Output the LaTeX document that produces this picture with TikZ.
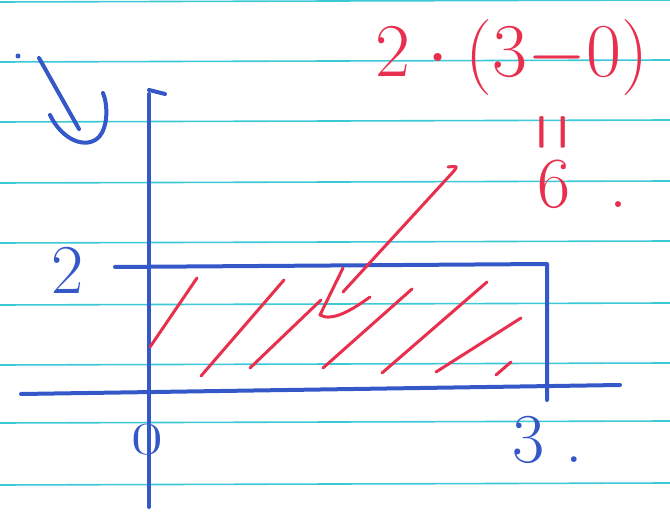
\documentclass[tikz,border=0pt]{standalone}
\usepackage{fix-cm}
\usepackage{graphicx}
\usepackage{xcolor}
\usetikzlibrary{arrows.meta}
\definecolor{penblue}{RGB}{52,88,200}
\definecolor{penred}{RGB}{232,48,78}
\definecolor{ruleline}{RGB}{60,200,215}
\begin{document}
\begin{tikzpicture}[x=1pt,y=-1pt,
  rule/.style={ruleline, line width=1.6pt},
  bluepen/.style={penblue, line width=4pt, line cap=round, line join=round},
  redpen/.style={penred, line width=3pt, line cap=round, line join=round},
  bluelabel/.style={penblue, inner sep=0pt},
  redlabel/.style={penred, inner sep=0pt}]
\useasboundingbox[fill=white] (0,0) rectangle (670,518);
% ruled paper
\foreach \y in {2,62,122,183,243,305,365,423,485}
  \draw[rule] (0,\y) -- (670,\y-2);
% axes
\draw[bluepen] (149,94) -- (149,507);
\draw[bluepen] (149,90) -- (165,94);
\draw[bluepen] (21,394) -- (620,385);
% rectangle
\draw[bluepen] (115,267) -- (547,264) -- (547,400);
% turning arrow
\fill[penblue] (18,56) circle (2.5pt);
\draw[bluepen] (39,58) -- (79,129);
\draw[bluepen] (50,115) .. controls (62,140) and (86,150) .. (99,137)
  .. controls (108,127) and (108,105) .. (103,93);
% labels
\node[bluelabel, font=\fontsize{70}{70}\selectfont] (ytwo) at (68,270) {2};
\node[bluelabel, font=\fontsize{46}{46}\selectfont, xscale=1.5] (xzero) at (147,440) {0};
\node[bluelabel, font=\fontsize{70}{70}\selectfont, anchor=west] (xthree) at (512,440) {3\hspace{0.3em}.};
% hatching
\foreach \a/\b/\c/\d in {197/278/150/347, 284/280/201/376, 321/300/250/368,
    412/289/323/368, 487/282/382/373, 521/318/436/372, 511/362/496/375}
  \draw[redpen] (\a,\b) -- (\c,\d);
% area
\node[redlabel, font=\fontsize{76}{76}\selectfont] (area) at (512,58) {$2\cdot(3{-}0)$};
\node[redlabel, font=\fontsize{120}{120}\selectfont, rotate=90] (equal) at (561,132) {\scalebox{0.42}[1]{$=$}};
\node[redlabel, font=\fontsize{72}{72}\selectfont, anchor=west] (six) at (537,184) {6\hspace{0.55em}.};
\draw[redpen] (343,292) -- (453,172) .. controls (458,166) .. (448,167);
\draw[redpen] (343,268) -- (320,315) .. controls (332,322) and (352,310) .. (370,297);
\end{tikzpicture}
\end{document}
